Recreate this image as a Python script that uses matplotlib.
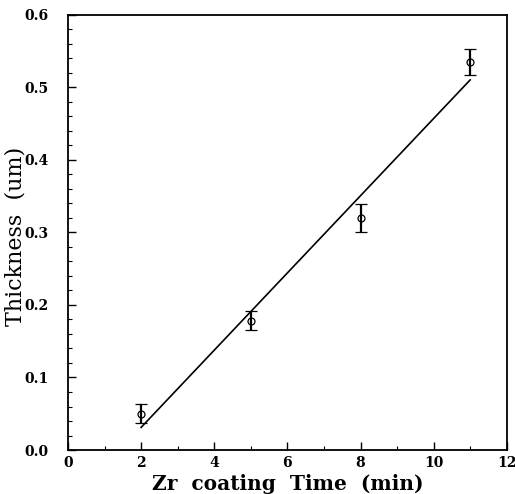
import numpy as np
import matplotlib
matplotlib.use("Agg")
import matplotlib.pyplot as plt
from matplotlib.ticker import MultipleLocator

time_min = [2, 5, 8, 11]
thickness_um = [0.050, 0.178, 0.320, 0.535]
thickness_err = [0.013, 0.013, 0.019, 0.018]
xtick_vals = [0, 2, 4, 6, 8, 10, 12]
xtick_labels = ['0', '2', '4', '6', '8', '10', '12']
ytick_vals = [0.0, 0.1, 0.2, 0.3, 0.4, 0.5, 0.6]
ytick_labels = ['0.0', '0.1', '0.2', '0.3', '0.4', '0.5', '0.6']

fig = plt.figure(figsize=(5.15, 4.94), dpi=100)
ax = fig.add_axes([0.132, 0.089, 0.852, 0.881])

ax.errorbar(time_min, thickness_um, yerr=thickness_err, fmt='o', ms=5,
            mfc='none', mec='black', mew=0.9, ecolor='black', elinewidth=1.6,
            capsize=4, capthick=1.8, color='black')

slope, intercept = np.polyfit(time_min, thickness_um, 1)
xf = np.array([min(time_min), max(time_min)])
ax.plot(xf, slope * xf + intercept, color='black', lw=1.2)

ax.set_xlim(0, 12)
ax.set_ylim(0, 0.6)
ax.set_xticks(xtick_vals)
ax.set_xticklabels(xtick_labels)
ax.set_yticks(ytick_vals)
ax.set_yticklabels(ytick_labels)
ax.xaxis.set_minor_locator(MultipleLocator(1))
ax.yaxis.set_minor_locator(MultipleLocator(0.02))
ax.tick_params(which='both', direction='in', top=False, right=False)
ax.tick_params(which='major', length=6, width=1)
ax.tick_params(which='minor', length=3, width=0.8)
ax.tick_params(axis='y', which='major', pad=14)
ax.tick_params(axis='x', which='major', pad=4)
for lab in ax.get_xticklabels() + ax.get_yticklabels():
    lab.set_family('DejaVu Serif')
    lab.set_fontweight('bold')
    lab.set_fontsize(10)
for s in ax.spines.values():
    s.set_linewidth(1.3)

ax.set_xlabel('Zr  coating  Time  (min)', family='DejaVu Serif',
              fontweight='bold', fontsize=14.5)
ax.xaxis.set_label_coords(0.5, -0.055)
ax.xaxis.label.set_va('top')
ax.set_ylabel('Thickness  (um)', family='DejaVu Serif', fontsize=16)
ax.yaxis.set_label_coords(-0.095, 0.49)

fig.savefig('out.png', dpi=100)
